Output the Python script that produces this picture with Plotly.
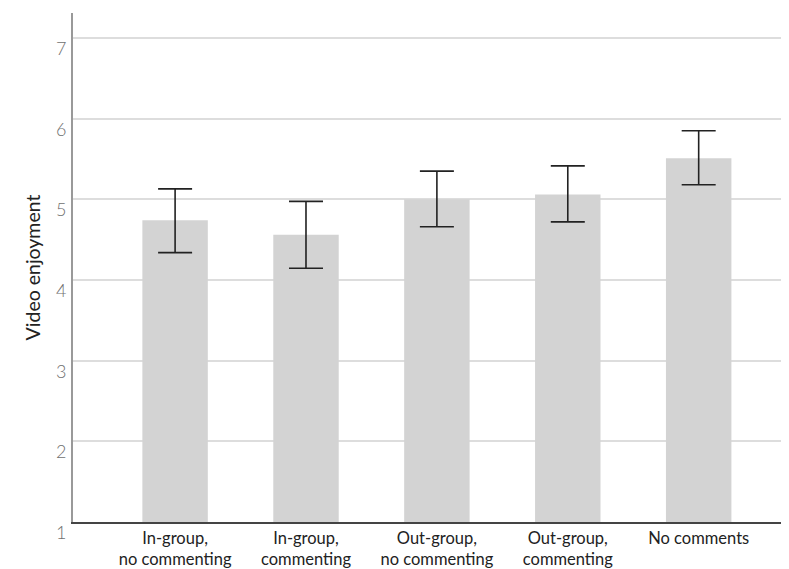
import plotly.graph_objects as go

categories = ["In-group,<br>no commenting", "In-group,<br>commenting", "Out-group,<br>no commenting",
              "Out-group,<br>commenting", "No comments"]
means = [4.74, 4.56, 5.00, 5.06, 5.51]
err_plus = [0.39, 0.415, 0.35, 0.355, 0.34]
err_minus = [0.40, 0.415, 0.34, 0.34, 0.33]
y_ticks = [1, 2, 3, 4, 5, 6, 7]

fig = go.Figure()
fig.add_trace(go.Bar(
    x=categories, y=means, base=0, width=0.5,
    marker=dict(color="#d3d3d3", line=dict(width=0)),
    error_y=dict(type="data", symmetric=False, array=err_plus, arrayminus=err_minus,
                 color="#222222", thickness=1.6, width=17),
))

for t in y_ticks:
    fig.add_annotation(x=0, xref="paper", y=t, yref="y", text=str(t), showarrow=False,
                       xanchor="right", yanchor="middle", xshift=-5, yshift=-10,
                       font=dict(family="Lato", size=18, color="#707070", weight=300))

fig.update_layout(
    width=781, height=561,
    margin=dict(l=65, r=0, t=5, b=47),
    plot_bgcolor="white", paper_bgcolor="white",
    showlegend=False,
    font=dict(family="Lato", color="#222222"),
)
fig.update_xaxes(
    range=[-0.78, 4.69], showgrid=False, showline=True, linecolor="#444444", linewidth=1.5,
    ticks="", tickfont=dict(family="Lato", size=16.5, color="#222222"),
)
fig.update_yaxes(
    range=[1, 7.31], tickvals=y_ticks, showticklabels=False,
    showgrid=True, gridcolor="#dddddd", gridwidth=2, zeroline=False,
    showline=True, linecolor="#999999", linewidth=1.5,
    title=dict(text="Video enjoyment", font=dict(family="Lato", size=19.5, color="#222222"), standoff=25),
)

fig.write_html("out.html", post_script="document.body.style.overflow='hidden';")
